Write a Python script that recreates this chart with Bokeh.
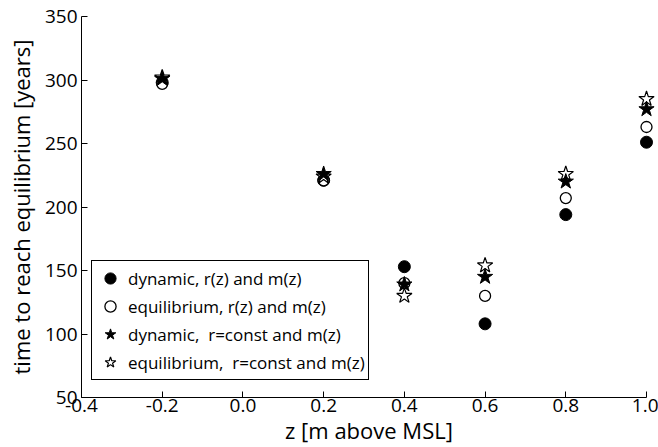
from bokeh.plotting import figure
from bokeh.models import ColumnDataSource, Legend, LegendItem, FixedTicker, NumeralTickFormatter, Range1d
from bokeh.embed import file_html
from bokeh.resources import INLINE

z = [-0.2, 0.2, 0.4, 0.6, 0.8, 1.0]
dyn_rz = [298, 221, 153, 108, 194, 251]
eq_rz = [297, 221, 140, 130, 207, 263]
dyn_rconst = [301, 226, 139, 145, 220, 277]
eq_rconst = [302, 224, 130, 154, 226, 285]

x_ticks = [-0.4, -0.2, 0.0, 0.2, 0.4, 0.6, 0.8, 1.0]
y_ticks = [50, 100, 150, 200, 250, 300, 350]

FONT = "Open Sans"

# frame spans -0.4..~1.025 so the markers at z=1.0 are not clipped; axis line stops at 1.0
p = figure(width=658, height=447, output_backend="svg", toolbar_location=None,
           x_range=Range1d(-0.4, 1.0 + 10 / 403.6), y_range=Range1d(50, 350),
           min_border_left=81, min_border_right=2, min_border_top=16, min_border_bottom=49)
p.outline_line_color = None
p.grid.visible = False
p.background_fill_color = "white"
p.border_fill_color = "white"

src = ColumnDataSource(dict(z=z, a=dyn_rz, b=eq_rz, c=dyn_rconst, d=eq_rconst))
r1 = p.scatter("z", "a", source=src, marker="circle", size=12, fill_color="black", line_color="black")
r2 = p.scatter("z", "b", source=src, marker="circle", size=11, fill_color="white", line_color="black", line_width=1.3)
r3 = p.scatter("z", "c", source=src, marker="star", size=16, fill_color="black", line_color="black")
r4 = p.scatter("z", "d", source=src, marker="star", size=16, fill_color="white", line_color="black", line_width=1.2, fill_alpha=0.0)

for ax in (p.xaxis[0], p.yaxis[0]):
    ax.major_tick_in = 6
    ax.major_tick_out = 0
    ax.minor_tick_in = 0
    ax.minor_tick_out = 0
    ax.axis_line_color = "black"
    ax.major_tick_line_color = "black"
    ax.major_label_text_font = FONT
    ax.major_label_text_font_size = "19px"
    ax.major_label_text_color = "black"
    ax.axis_label_text_font = FONT
    ax.axis_label_text_font_style = "normal"
    ax.axis_label_text_color = "black"
    ax.axis_label_text_font_size = "22px"

p.xaxis.bounds = (-0.4, 1.0)
p.xaxis.ticker = FixedTicker(ticks=x_ticks)
p.xaxis.formatter = NumeralTickFormatter(format="0.0")
p.yaxis.ticker = FixedTicker(ticks=y_ticks)
p.xaxis.axis_label = "z [m above MSL]"
p.yaxis.axis_label = "time to reach equilibrium [years]"
p.xaxis.major_label_standoff = 1
p.xaxis.axis_label_standoff = 0
p.yaxis.major_label_standoff = 4
p.yaxis.axis_label_standoff = 6

legend = Legend(items=[
    LegendItem(label="dynamic, r(z) and m(z)", renderers=[r1]),
    LegendItem(label="equilibrium, r(z) and m(z)", renderers=[r2]),
    LegendItem(label="dynamic,  r=const and m(z)", renderers=[r3]),
    LegendItem(label="equilibrium,  r=const and m(z)", renderers=[r4]),
], location=(10, 17))
legend.label_text_font = FONT
legend.label_text_font_size = "17px"
legend.label_text_color = "black"
legend.border_line_color = "black"
legend.border_line_alpha = 1.0
legend.border_line_width = 1
legend.padding = 3
legend.spacing = 0
legend.glyph_width = 30
legend.glyph_height = 28
legend.label_height = 24
legend.label_standoff = 3
legend.margin = 0
legend.background_fill_alpha = 1.0
p.add_layout(legend, "center")

open("out.html", "w").write(file_html(p, INLINE))
